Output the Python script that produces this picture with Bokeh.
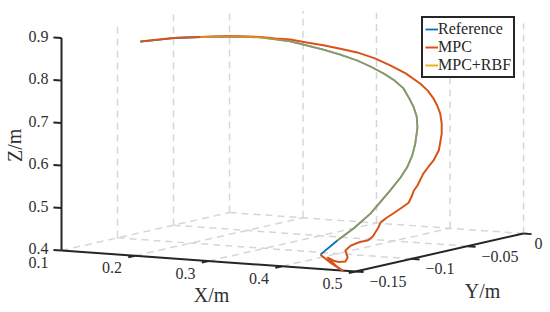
from bokeh.plotting import figure
from bokeh.embed import file_html
from bokeh.resources import INLINE
from bokeh.models import Legend, LegendItem
from bokeh.core.properties import value

# Data (metres); depth is taken at one Y plane
ref_x = [.338,.361,.383,.406,.420,.433,.447,.456,.463,.467,.470,.469,.465,.459,.451,.439,.424,.406,.388,.365,.342,.319,.297,.277,.256,.235,.214,.175,.138,.093]
ref_z = [.375,.411,.442,.480,.510,.538,.570,.595,.624,.652,.690,.716,.737,.757,.780,.797,.812,.826,.838,.849,.858,.865,.872,.874,.876,.875,.873,.867,.860,.846]
mpc_x = [.338,.353,.368,.360,.348,.356,.363,.372,.375,.372,.379,.386,.393,.402,.409,.416,.420,.428,.437,.447,.458,.462,.465,.470,.478,.485,.492,.499,.501,.503,.503,.501,.497,.492,.484,.474,.454,.433,.412,.388,.365,.342,.319,.297,.277,.256,.214,.175,.138,.093]
mpc_z = [.375,.356,.341,.350,.369,.363,.361,.363,.373,.389,.401,.407,.412,.416,.426,.446,.461,.473,.484,.497,.512,.527,.541,.554,.583,.600,.616,.640,.659,.680,.704,.727,.745,.761,.779,.794,.816,.832,.846,.857,.863,.868,.872,.876,.876,.877,.874,.867,.860,.846]
rbf_x = [.361,.383,.406,.420,.433,.447,.456,.463,.467,.470,.469,.465,.459,.451,.439,.424,.406,.388,.365,.342,.319,.297,.277,.256,.235,.214,.175]
rbf_z = [.411,.442,.480,.510,.538,.570,.595,.624,.652,.690,.716,.737,.757,.780,.797,.812,.826,.838,.849,.858,.865,.872,.874,.876,.875,.873,.867]
curve_y = -0.075

x_ticks = [0.1, 0.2, 0.3, 0.4, 0.5]
y_ticks = [-0.15, -0.1, -0.05, 0]
z_ticks = [0.4, 0.5, 0.6, 0.7, 0.8, 0.9]
x_tick_labels = ["0.1", "0.2", "0.3", "0.4", "0.5"]
y_tick_labels = ["\u22120.15", "\u22120.1", "\u22120.05", "0"]
z_tick_labels = ["0.4", "0.5", "0.6", "0.7", "0.8", "0.9"]
wall_top_y = [0.897, 0.896, 0.871]
wall_top_x = [0.887, 0.895, 0.896, 0.894]

XMIN, XMAX, YMIN, YMAX, ZMIN, ZMAX = 0.1, 0.5, -0.15, 0.0, 0.4, 0.9

def sx(x, y, z=ZMIN):
    return 61 + 735 * (x - XMIN) + 1120 * (y - YMIN)

def sy(x, y, z=ZMIN):
    return 250 + 52.5 * (x - XMIN) - 253 * (y - YMIN) - 425 * (z - ZMIN)

def proj(xs, ys, zs):
    return [sx(a, b) for a, b in zip(xs, ys)], [sy(a, b, c) for a, b, c in zip(xs, ys, zs)]

p = figure(width=550, height=312, x_range=(0, 550), y_range=(312, 0),
           output_backend="svg", toolbar_location=None, min_border=0)
p.axis.visible = False
p.grid.visible = False
p.outline_line_color = None
p.background_fill_color = "white"
p.border_fill_color = "white"

GRID = dict(line_color="#d6d6d6", line_width=1.5, line_dash="7 5")
for i, y in enumerate(y_ticks):
    if y != YMIN:
        a, b = proj([XMIN, XMAX], [y, y], [ZMIN, ZMIN])
        p.line(a, b, **GRID)
        a, b = proj([XMIN, XMIN], [y, y], [ZMIN, wall_top_y[i - 1]])
        p.line(a, b, **GRID)
for i, x in enumerate(x_ticks):
    if x != XMAX:
        a, b = proj([x, x], [YMIN, YMAX], [ZMIN, ZMIN])
        p.line(a, b, **GRID)
    if x != XMIN:
        a, b = proj([x, x], [YMAX, YMAX], [ZMIN, wall_top_x[i - 1]])
        p.line(a, b, **GRID)

AX = dict(line_color="#262626", line_width=2)
a, b = proj([XMIN, XMIN], [YMIN, YMIN], [ZMIN, ZMAX]); p.line(a, b, **AX)
a, b = proj([XMIN, XMAX, XMAX], [YMIN, YMIN, YMAX], [ZMIN, ZMIN, ZMIN]); p.line(a, b, **AX)
for z in z_ticks:
    a, b = proj([XMIN, XMIN - 0.011], [YMIN, YMIN], [z, z]); p.line(a, b, **AX)
for x in x_ticks[1:]:
    a, b = proj([x, x], [YMIN, YMIN - 0.006], [ZMIN, ZMIN]); p.line(a, b, **AX)
for y in y_ticks:
    a, b = proj([XMAX, XMAX + 0.011], [y, y], [ZMIN, ZMIN]); p.line(a, b, **AX)

TXT = dict(text_font=value("Liberation Serif"), text_font_size="16px", text_color="#303030",
           text_baseline="middle")
a, b = proj([XMIN] * len(z_ticks), [YMIN] * len(z_ticks), z_ticks)
p.text(a, b, text=z_tick_labels, text_align="right", x_offset=-13, y_offset=-2, **TXT)
a, b = proj(x_ticks, [YMIN] * len(x_ticks), [ZMIN] * len(x_ticks))
p.text(a, b, text=x_tick_labels, text_align="center", x_offset=-23, y_offset=12, **TXT)
a, b = proj([XMAX] * 3, y_ticks[:3], [ZMIN] * 3)
p.text(a, b, text=y_tick_labels[:3], text_align="left", x_offset=14, y_offset=10, **TXT)
a, b = proj([XMAX], y_ticks[3:], [ZMIN])
p.text(a, b, text=y_tick_labels[3:], text_align="left", x_offset=11, y_offset=10, **TXT)

LAB = dict(text_font=value("Liberation Serif"), text_font_size="20px", text_color="#303030",
           text_baseline="middle", text_align="center")
a, b = proj([0.3], [YMIN], [ZMIN]); p.text(a, b, text=["X/m"], x_offset=3, y_offset=34, **LAB)
a, b = proj([XMAX], [-0.1], [ZMIN]); p.text(a, b, text=["Y/m"], x_offset=71, y_offset=32, **LAB)
a, b = proj([XMIN], [YMIN], [0.65]); p.text(a, b, text=["Z/m"], angle=1.5708, x_offset=-47, y_offset=1, **LAB)

a, b = proj(ref_x, [curve_y] * len(ref_x), ref_z)
r1 = p.line(a, b, line_color="#0072BD", line_width=1.8, line_join="round")
a, b = proj(mpc_x, [curve_y] * len(mpc_x), mpc_z)
r2 = p.line(a, b, line_color="#D95319", line_width=2, line_join="round")
a, b = proj(rbf_x, [curve_y] * len(rbf_x), rbf_z)
p.line(a, b, line_color="#EDB120", line_width=1.8, line_alpha=0.6, line_join="round")
r3 = p.line(a[:1], b[:1], line_color="#EDB120", line_width=2)

leg = Legend(items=[LegendItem(label="Reference", renderers=[r1]),
                    LegendItem(label="MPC", renderers=[r2]),
                    LegendItem(label="MPC+RBF", renderers=[r3])],
             location=(421, 234), orientation="vertical",
             border_line_color="#262626", border_line_width=2, border_line_alpha=1,
             background_fill_alpha=1, background_fill_color="white",
             label_text_font="Liberation Serif", label_text_font_size="16px", label_text_color="#262626",
             glyph_width=13, glyph_height=16, label_standoff=0, spacing=0, padding=2, margin=0,
             label_height=16)
p.add_layout(leg, "center")

open("out.html", "w").write(file_html(p, INLINE))
